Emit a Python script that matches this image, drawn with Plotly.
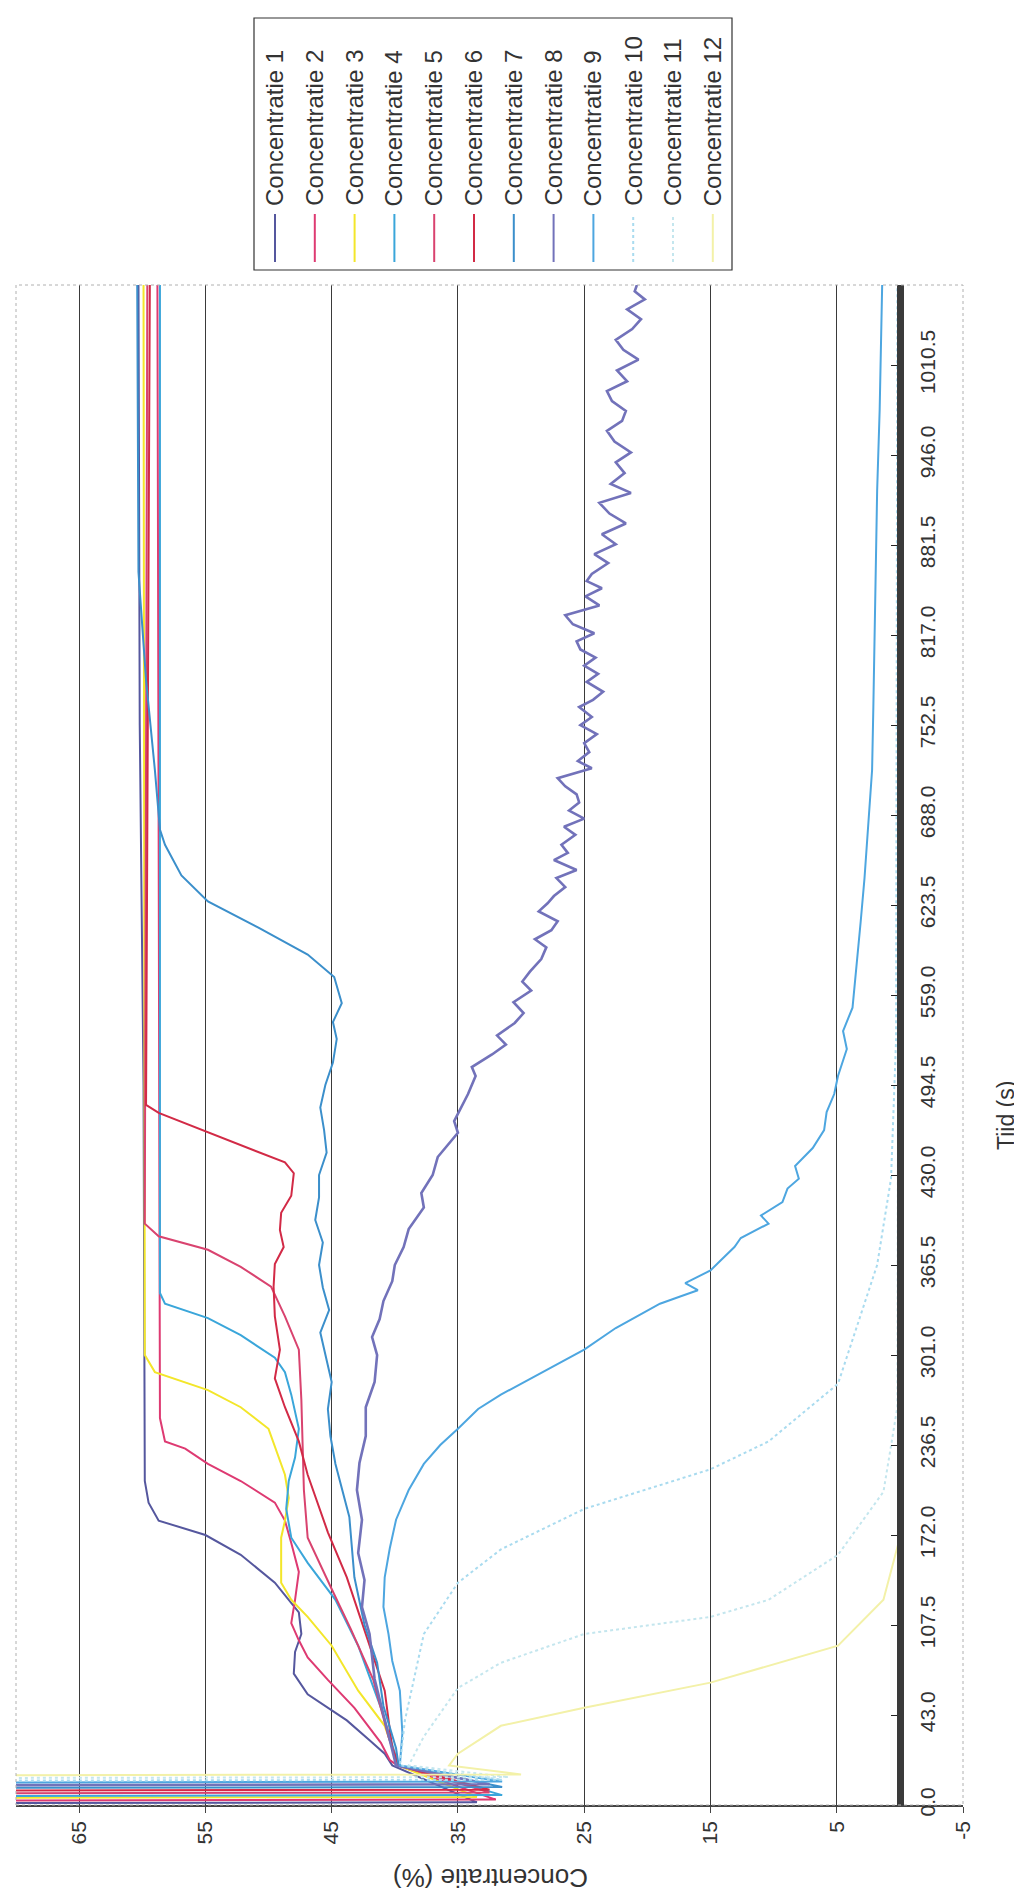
import plotly.graph_objects as go

# time axis (category axis in the original sheet), one step per label
tijd_labels = ["0.0", "43.0", "107.5", "172.0", "236.5", "301.0", "365.5", "430.0",
               "494.5", "559.0", "623.5", "688.0", "752.5", "817.0", "881.5", "946.0", "1010.5"]
conc_ticks = [65, 55, 45, 35, 25, 15, 5, -5]

series_names = ["Concentratie %d" % i for i in range(1, 13)]
series_colors = ["#55579E", "#DE3A72", "#F3E62A", "#3AA6DA", "#D9436F", "#D22A46",
                 "#3B8FCB", "#7272BA", "#4DA6E0", "#A9DBEF", "#C4E6EE", "#F3F1A8"]

# positions along the time axis (in label steps) and concentration values
c1_pos = [0.02, 0.03, 0.44, 0.57, 0.72, 0.94, 1.23, 1.46, 1.70, 1.90, 2.14, 2.47, 2.78, 3.00, 3.16, 3.36, 3.60, 8.0, 12.0, 16.9]
c1_conc = [75, 33.5, 40.2, 40.8, 42.0, 43.8, 46.9, 48.0, 47.9, 47.4, 47.6, 49.5, 52.2, 55.0, 58.7, 59.5, 59.8, 59.9, 60.2, 60.3]

c2_pos = [0.05, 0.06, 0.44, 0.50, 0.69, 1.08, 1.39, 1.64, 1.83, 2.02, 2.28, 2.59, 2.91, 3.16, 3.36, 3.60, 3.79, 3.96, 4.04, 4.30, 16.9]
c2_conc = [75, 32.0, 39.8, 40.4, 41.1, 43.2, 45.3, 46.9, 47.6, 48.2, 47.9, 47.6, 48.2, 48.7, 49.5, 52.2, 54.8, 56.6, 58.2, 58.6, 58.8]

c3_pos = [0.08, 0.09, 0.44, 0.88, 1.27, 1.77, 2.09, 2.28, 2.47, 2.97, 3.16, 3.41, 3.67, 3.98, 4.18, 4.42, 4.61, 4.81, 5.00, 16.9]
c3_conc = [75, 33.5, 39.7, 40.8, 42.9, 45.0, 46.9, 48.2, 49.0, 49.0, 48.7, 48.4, 48.7, 49.5, 50.0, 52.2, 54.8, 59.0, 59.8, 59.9]

c4_pos = [0.10, 0.11, 0.44, 1.08, 1.77, 2.28, 2.69, 2.97, 3.29, 3.60, 3.86, 4.18, 4.56, 4.81, 4.97, 5.22, 5.41, 5.57, 5.69, 16.9]
c4_conc = [75, 31.5, 39.7, 41.1, 42.9, 44.7, 46.9, 48.2, 48.6, 48.4, 47.9, 47.6, 48.2, 48.7, 49.5, 52.2, 54.8, 58.2, 58.6, 58.6]

c5_pos = [0.13, 0.14, 0.44, 0.76, 1.39, 1.96, 2.40, 2.97, 3.50, 4.00, 4.50, 5.06, 5.43, 5.76, 5.98, 6.17, 6.32, 6.46, 16.9]
c5_conc = [75, 32.5, 39.7, 40.5, 41.7, 43.5, 45.0, 46.9, 47.2, 47.3, 47.4, 47.6, 48.7, 49.8, 52.2, 54.8, 58.7, 59.8, 59.6]

c6_pos = [0.16, 0.17, 0.44, 0.63, 1.27, 1.90, 2.53, 3.03, 3.67, 4.04, 4.42, 4.74, 5.06, 5.43, 5.76, 6.01, 6.20, 6.39,
          6.58, 6.77, 7.02, 7.14, 7.47, 7.69, 7.78, 16.9]
c6_conc = [75, 32.5, 39.7, 40.2, 40.8, 42.3, 43.8, 45.3, 46.9, 47.6, 48.7, 49.5, 49.1, 49.5, 49.6, 49.5, 48.8, 49.1,
           49.0, 48.2, 48.0, 48.7, 54.8, 58.7, 59.7, 59.4]

c7_pos = [0.19, 0.20, 0.44, 0.63, 1.1, 1.58, 2.0, 2.53, 3.2, 3.79, 4.1, 4.4, 4.7, 5.0, 5.25, 5.5, 5.75, 6.0, 6.25,
          6.5, 6.75, 7.0, 7.25, 7.5, 7.75, 8.0, 8.25, 8.51, 8.7, 8.91, 9.05, 9.2, 9.45, 9.75, 10.04, 10.33, 10.67,
          10.84, 11.5, 12.5, 13.7, 16.9]
c7_conc = [75, 31.5, 39.7, 39.9, 40.9, 41.4, 42.4, 43.2, 43.6, 44.7, 45.1, 45.3, 45.0, 45.5, 45.9, 45.2, 45.7, 46.0,
           45.7, 46.3, 46.0, 46.0, 45.4, 45.6, 45.9, 45.5, 44.9, 44.6, 44.9, 44.2, 44.5, 44.8, 46.9, 50.8, 54.8, 56.9,
           58.2, 58.6, 59.0, 59.7, 60.3, 60.4]

c8_pos = [0.22, 0.23, 0.44, 0.94, 1.4, 1.9, 2.2, 2.5, 2.8, 3.17, 3.5, 3.8, 4.1, 4.42, 4.7, 5.0, 5.2, 5.4, 5.6, 5.82,
          6.0, 6.2, 6.4, 6.64, 6.8, 7.0, 7.2, 7.47, 7.6, 7.9, 8.1, 8.2, 8.34, 8.45, 8.55, 8.69, 8.8, 8.92, 9.05,
          9.15, 9.26, 9.4, 9.53, 9.62, 9.72, 9.82, 9.93, 10.02, 10.1, 10.2, 10.3, 10.39, 10.5, 10.58, 10.67, 10.78,
          10.87, 10.96, 11.05, 11.14, 11.23, 11.32, 11.41, 11.52, 11.6, 11.7, 11.8, 11.9, 12.0, 12.09, 12.2, 12.28,
          12.37, 12.48, 12.57, 12.66, 12.75, 12.84, 12.93, 13.02, 13.12, 13.22, 13.33, 13.43, 13.52, 13.6, 13.68,
          13.8, 13.9, 14.01, 14.12, 14.24, 14.35, 14.47, 14.58, 14.68, 14.8, 14.92, 15.03, 15.15, 15.27, 15.38,
          15.49, 15.6, 15.71, 15.82, 15.94, 16.06, 16.17, 16.28, 16.4, 16.51, 16.62, 16.73, 16.82, 16.9]
c8_conc = [75, 32.5, 39.9, 40.8, 41.6, 42.0, 42.6, 42.4, 42.9, 42.6, 43.0, 42.8, 42.3, 42.3, 41.6, 41.4, 41.8, 41.2,
           40.9, 40.2, 40.0, 39.3, 38.9, 37.7, 37.9, 37.0, 36.6, 35.0, 35.3, 34.2, 33.6, 33.9, 32.3, 31.2, 31.9,
           30.5, 29.8, 30.6, 29.2, 29.9, 29.3, 28.4, 28.0, 28.9, 27.6, 27.1, 28.6, 27.9, 27.4, 26.5, 27.2, 25.6,
           27.4, 26.3, 26.8, 25.7, 26.6, 25.0, 26.2, 25.4, 25.6, 26.5, 27.1, 24.4, 25.5, 24.6, 25.0, 24.0, 25.3,
           24.4, 25.4, 24.3, 23.5, 24.8, 23.9, 25.0, 24.1, 25.3, 25.6, 24.2, 25.9, 26.5, 23.8, 24.9, 23.6, 24.8,
           24.4, 23.1, 24.2, 22.5, 23.6, 21.7, 23.0, 23.8, 21.3, 22.9, 21.8, 22.5, 21.3, 22.6, 23.2, 22.0, 21.7,
           22.8, 23.2, 21.6, 22.4, 20.7, 21.9, 22.5, 21.2, 20.5, 21.6, 20.2, 21.0, 20.8]

c9_pos = [0.25, 0.26, 0.44, 0.8, 1.27, 1.6, 1.9, 2.2, 2.53, 2.85, 3.17, 3.5, 3.79, 4.0, 4.18, 4.4, 4.56, 4.8, 5.06,
          5.3, 5.45, 5.57, 5.65, 5.72, 5.80, 5.94, 6.05, 6.2, 6.3, 6.46, 6.55, 6.7, 6.85, 6.96, 7.1, 7.3, 7.5, 7.7,
          7.9, 8.1, 8.4, 8.6, 8.86, 9.2, 9.5, 9.82, 10.3, 10.9, 11.5, 12.2, 13.0, 13.8, 14.6, 15.5, 16.2, 16.9]
c9_conc = [75, 31.5, 39.6, 39.4, 39.6, 40.2, 40.5, 40.9, 40.8, 40.4, 39.9, 38.9, 37.7, 36.4, 35.0, 33.4, 31.6, 28.4,
           25.0, 22.5, 20.5, 19.0, 17.4, 16.0, 17.0, 15.0, 14.2, 13.1, 12.6, 10.4, 11.0, 9.3, 8.9, 8.0, 8.3, 6.9,
           6.0, 5.8, 5.2, 4.9, 4.2, 4.5, 3.75, 3.5, 3.3, 3.1, 2.8, 2.5, 2.2, 2.1, 2.0, 1.9, 1.8, 1.6, 1.5, 1.4]

c10_pos = [0.27, 0.28, 0.44, 0.94, 1.9, 2.47, 2.84, 3.29, 3.73, 4.04, 4.68, 5.06, 6.0, 6.96, 8.5, 16.9]
c10_conc = [75, 31.5, 39.6, 39.2, 37.7, 35.0, 31.6, 25.0, 15.0, 10.4, 4.9, 4.0, 1.8, 0.7, 0.3, 0.2]

c11_pos = [0.30, 0.31, 0.44, 0.76, 1.30, 1.58, 1.90, 2.09, 2.28, 2.78, 3.48, 4.42, 16.9]
c11_conc = [75, 31.0, 38.9, 37.7, 35.0, 31.6, 25.0, 15.0, 10.4, 4.9, 1.3, 0.2, 0.0]

c12_pos = [0.33, 0.34, 0.44, 0.57, 0.88, 1.08, 1.36, 1.77, 2.28, 2.97, 16.9]
c12_conc = [75, 30.0, 35.7, 35.0, 31.6, 25.0, 15.0, 4.9, 1.3, 0.0, 0.0]

all_pos = [c1_pos, c2_pos, c3_pos, c4_pos, c5_pos, c6_pos, c7_pos, c8_pos, c9_pos, c10_pos, c11_pos, c12_pos]
all_conc = [c1_conc, c2_conc, c3_conc, c4_conc, c5_conc, c6_conc, c7_conc, c8_conc, c9_conc, c10_conc, c11_conc, c12_conc]

# plot area in page pixels
W, H = 1022, 1893
L, R, T, B = 8, 955, 277, 1797


def fx(px):
    return (px - L) / (R - L)


def fy(py):
    return (B - py) / (B - T)


FONT = "Liberation Sans, Arial, sans-serif"

fig = go.Figure()
for i in range(12):
    width = 2.6 if i == 7 else 2
    dash = "dot" if i in (9, 10) else "solid"
    fig.add_trace(go.Scatter(
        x=all_conc[i], y=all_pos[i], mode="lines", name=series_names[i],
        line=dict(color=series_colors[i], width=width, dash=dash),
    ))

shapes = [
    # dotted plot-area border
    dict(type="rect", xref="paper", yref="paper", x0=0, x1=1, y0=0, y1=1,
         line=dict(color="#b0b0b0", width=1, dash="dot")),
    # legend box
    dict(type="rect", xref="paper", yref="paper", x0=fx(246), x1=fx(724), y0=fy(262), y1=fy(10),
         line=dict(color="#333", width=1.2)),
]
annotations = []
for i in range(12):
    xp = 267 + 39.8 * i
    shapes.append(dict(type="line", xref="paper", yref="paper", x0=fx(xp), x1=fx(xp),
                       y0=fy(254), y1=fy(206),
                       line=dict(color=series_colors[i], width=2,
                                 dash="dot" if i in (9, 10) else "solid")))
    annotations.append(dict(xref="paper", yref="paper", x=fx(xp), y=fy(200), text=series_names[i],
                            textangle=-90, xanchor="center", yanchor="bottom", showarrow=False,
                            font=dict(family=FONT, size=24, color="#333")))

annotations.append(dict(xref="paper", yref="paper", x=fx(482), y=fy(1870), text="Concentratie (%)",
                        textangle=180, xanchor="center", yanchor="middle", showarrow=False,
                        font=dict(family=FONT, size=26, color="#333")))
annotations.append(dict(xref="paper", yref="paper", x=fx(998), y=fy(1108), text="Tijd (s)",
                        textangle=-90, xanchor="center", yanchor="middle", showarrow=False,
                        font=dict(family=FONT, size=23, color="#333")))

fig.update_layout(
    width=W, height=H,
    margin=dict(l=L, r=W - R, t=T, b=H - B),
    paper_bgcolor="white", plot_bgcolor="white",
    showlegend=False,
    shapes=shapes, annotations=annotations,
    xaxis=dict(
        range=[70, -5], tickvals=conc_ticks, ticktext=[str(v) for v in conc_ticks],
        showgrid=True, gridcolor="#3a3a3a", gridwidth=1, zeroline=False,
        showline=True, linecolor="#444", linewidth=1.5,
        ticks="outside", ticklen=6, tickcolor="#444", tickangle=-90,
        tickfont=dict(family=FONT, size=21, color="#333"),
    ),
    yaxis=dict(
        range=[0, 16.89], tickvals=list(range(len(tijd_labels))), ticktext=tijd_labels,
        anchor="free", position=70 / 75, side="right",
        showgrid=False, zeroline=False,
        showline=True, linecolor="#3a3a3a", linewidth=7,
        ticks="inside", ticklen=6, tickcolor="#222", tickangle=-90,
        ticklabelstandoff=6,
        tickfont=dict(family=FONT, size=21, color="#333"),
    ),
)

fig.write_html("out.html")
